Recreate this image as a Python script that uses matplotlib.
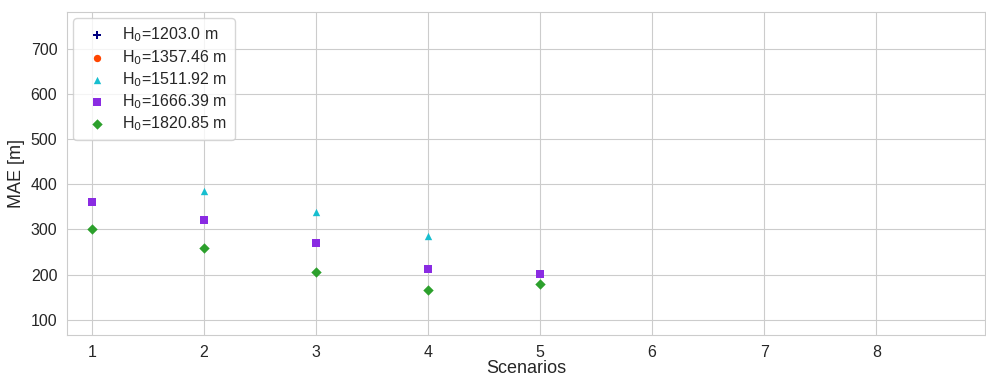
import matplotlib.pyplot as plt
import seaborn as sns
import numpy as np

sns.set_style("whitegrid")
plt.rcParams['font.family'] = ['Liberation Sans', 'DejaVu Sans']

# MAE per scenario for each initial height
scenarios = [1, 2, 3, 4, 5]
heights = [1203.0, 1357.46, 1511.92, 1666.39, 1820.85]
mae_1203 = [np.nan, np.nan, np.nan, np.nan, np.nan]
mae_1357 = [np.nan, np.nan, np.nan, np.nan, np.nan]
mae_1512 = [np.nan, 385, 339, 286, np.nan]
mae_1666 = [361, 321, 271, 213, 202]
mae_1821 = [302, 258, 205, 166, 180]

series = [mae_1203, mae_1357, mae_1512, mae_1666, mae_1821]
colors = ["navy", "orangered", "#17becf", "blueviolet", "#2ca02c"]
markers = ["P", "o", "^", "s", "D"]

fig = plt.figure(figsize=(9.86, 3.76), dpi=100)
ax = fig.add_axes([0.068, 0.109, 0.931, 0.859])
for h, vals, c, m in zip(heights, series, colors, markers):
	ax.scatter(scenarios, vals, color=c, marker=m, s=28, linewidths=0,
	           label="H$_0$=" + str(h) + " m", zorder=3)

ax.set_xlim(0.78, 8.97)
ax.set_ylim(66, 782)
ax.set_xticks(range(1, 9))
ax.set_yticks(range(100, 701, 100))
ax.tick_params(labelsize=11.5)
ax.set_xlabel("Scenarios", fontsize=13, labelpad=0)
ax.set_ylabel("MAE [m]", fontsize=13)
ax.legend(loc="upper left", fontsize=11.5, handletextpad=0.6, borderpad=0.45,
          labelspacing=0.22, borderaxespad=0.4)
plt.savefig("out.png", dpi=100)
